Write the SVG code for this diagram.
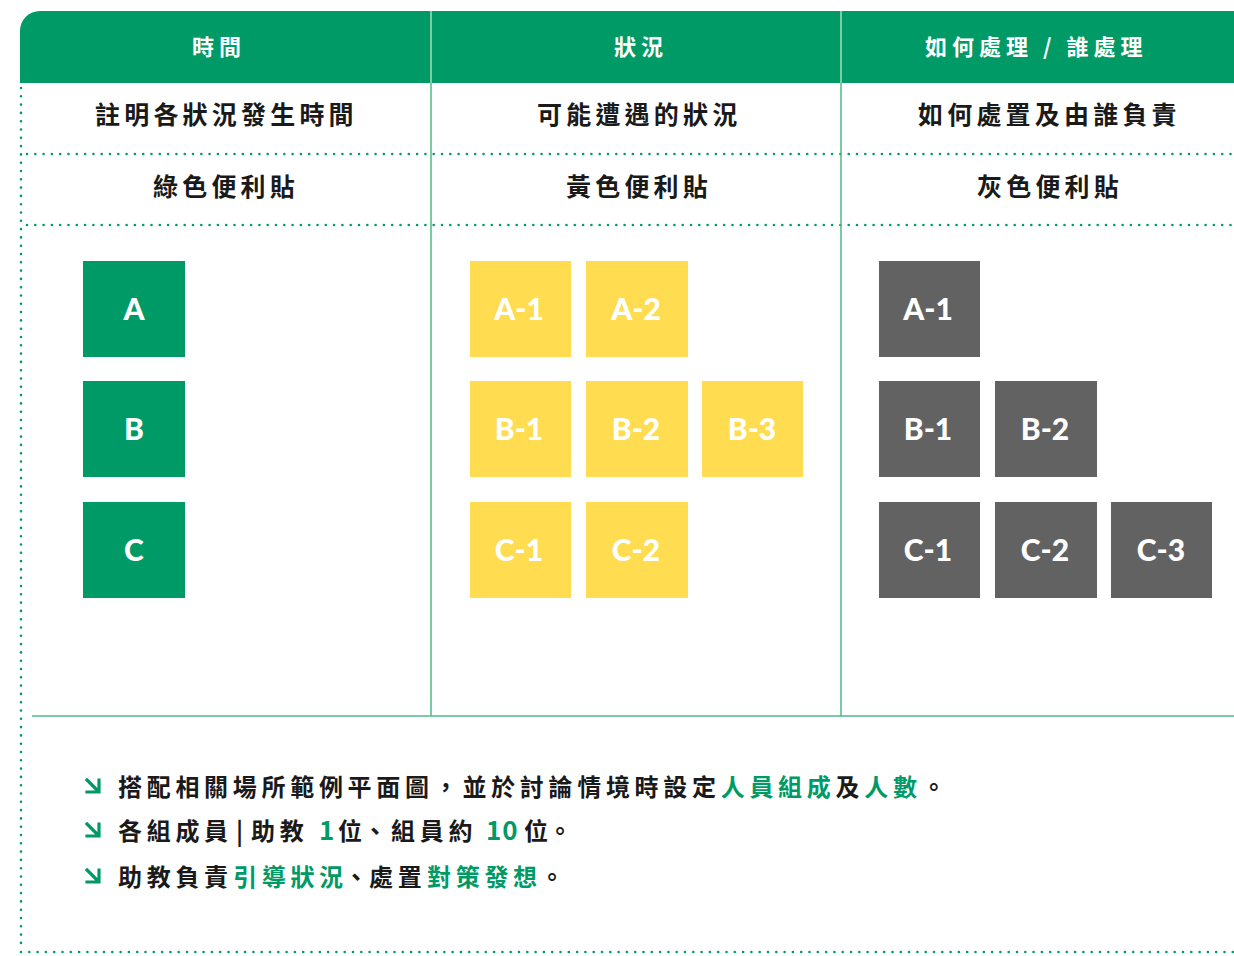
<svg xmlns="http://www.w3.org/2000/svg" width="1234" height="956" viewBox="0 0 1234 956">
<defs>
<style>
.cjk{font-family:"Noto Sans CJK TC","Noto Sans",sans-serif;font-weight:700;}
.hd{fill:#ffffff;font-size:22px;letter-spacing:5px;}
.r{fill:#1a1a1a;font-size:25px;letter-spacing:4.2px;}
.b{fill:#1a1a1a;font-size:24px;letter-spacing:4.7px;}
.g{fill:#009a66;}
.n0{letter-spacing:0;}
.num{letter-spacing:1px;font-size:26px;}
.lbl{font-family:"Lato","Open Sans","Liberation Sans",sans-serif;font-weight:900;font-size:30px;fill:#ffffff;text-anchor:middle;}
.dot{stroke:#009a66;stroke-width:2.6;stroke-linecap:round;stroke-dasharray:0 8.3;fill:none;}
.solid{stroke:#4cb98a;stroke-width:1.5;fill:none;}
.gn{fill:#009a66;}
.yl{fill:#ffdc50;}
.gy{fill:#626262;}
.arr{stroke:#009a66;stroke-width:3.2;fill:none;stroke-linecap:square;}
</style>
</defs>
<rect width="1234" height="956" fill="#ffffff"/>

<g id="header">
<path d="M20 83 V31 A20 20 0 0 1 40 11 H1234 V83 Z" fill="#009a66"/>
<line x1="431" y1="11" x2="431" y2="83" stroke="#a6dcc2" stroke-width="1.5"/>
<line x1="841" y1="11" x2="841" y2="83" stroke="#a6dcc2" stroke-width="1.5"/>
<text class="cjk hd" x="192" y="55">時間</text>
<text class="cjk hd" x="614" y="55">狀況</text>
<text class="cjk hd" x="925" y="55">如何處理 / 誰處理</text>
</g>

<g id="grid">
<line class="dot" x1="21" y1="88" x2="21" y2="950"/>
<line class="dot" x1="21" y1="952" x2="1234" y2="952"/>
<line class="dot" x1="27" y1="154" x2="1234" y2="154"/>
<line class="dot" x1="27" y1="225" x2="1234" y2="225"/>
<line class="solid" x1="431" y1="83" x2="431" y2="716"/>
<line class="solid" x1="841" y1="83" x2="841" y2="716"/>
<line class="solid" x1="32" y1="716" x2="1234" y2="716"/>
</g>

<g id="row-desc">
<text class="cjk r" x="95" y="124">註明各狀況發生時間</text>
<text class="cjk r" x="537" y="124">可能遭遇的狀況</text>
<text class="cjk r" x="918" y="124">如何處置及由誰負責</text>
</g>
<g id="row-color">
<text class="cjk r" x="153" y="196">綠色便利貼</text>
<text class="cjk r" x="566" y="196">黃色便利貼</text>
<text class="cjk r" x="977" y="196">灰色便利貼</text>
</g>

<g id="note-A"><rect class="gn" x="83" y="261" width="102" height="96"/><text class="lbl" x="134" y="320">A</text></g>
<g id="note-B"><rect class="gn" x="83" y="381" width="102" height="96"/><text class="lbl" x="134" y="440">B</text></g>
<g id="note-C"><rect class="gn" x="83" y="502" width="102" height="96"/><text class="lbl" x="134" y="561">C</text></g>

<g id="note-A-1-y"><rect class="yl" x="470" y="261" width="101" height="96"/><text class="lbl" x="519" y="320">A-1</text></g>
<g id="note-A-2-y"><rect class="yl" x="586" y="261" width="102" height="96"/><text class="lbl" x="636" y="320">A-2</text></g>
<g id="note-B-1-y"><rect class="yl" x="470" y="381" width="101" height="96"/><text class="lbl" x="519" y="440">B-1</text></g>
<g id="note-B-2-y"><rect class="yl" x="586" y="381" width="102" height="96"/><text class="lbl" x="636" y="440">B-2</text></g>
<g id="note-B-3-y"><rect class="yl" x="702" y="381" width="101" height="96"/><text class="lbl" x="752" y="440">B-3</text></g>
<g id="note-C-1-y"><rect class="yl" x="470" y="502" width="101" height="96"/><text class="lbl" x="519" y="561">C-1</text></g>
<g id="note-C-2-y"><rect class="yl" x="586" y="502" width="102" height="96"/><text class="lbl" x="636" y="561">C-2</text></g>

<g id="note-A-1-g"><rect class="gy" x="879" y="261" width="101" height="96"/><text class="lbl" x="928" y="320">A-1</text></g>
<g id="note-B-1-g"><rect class="gy" x="879" y="381" width="101" height="96"/><text class="lbl" x="928" y="440">B-1</text></g>
<g id="note-B-2-g"><rect class="gy" x="995" y="381" width="102" height="96"/><text class="lbl" x="1045" y="440">B-2</text></g>
<g id="note-C-1-g"><rect class="gy" x="879" y="502" width="101" height="96"/><text class="lbl" x="928" y="561">C-1</text></g>
<g id="note-C-2-g"><rect class="gy" x="995" y="502" width="102" height="96"/><text class="lbl" x="1045" y="561">C-2</text></g>
<g id="note-C-3-g"><rect class="gy" x="1111" y="502" width="101" height="96"/><text class="lbl" x="1161" y="561">C-3</text></g>

<g id="notes">
<path class="arr" d="M87 780 L98 791 M87 792 H99 V780"/>
<path class="arr" d="M87 824 L98 835 M87 836 H99 V824"/>
<path class="arr" d="M87 870 L98 881 M87 882 H99 V870"/>
<text class="cjk b" x="118" y="796">搭配相關場所範例平面圖，並於討論情境時設定<tspan class="g">人員組成</tspan>及<tspan class="g">人數</tspan>。</text>
<text class="cjk b" y="840"><tspan x="118">各組成員</tspan><tspan x="236">|</tspan><tspan x="251">助教</tspan><tspan class="g num" x="319">1</tspan><tspan class="n0" x="338">位</tspan><tspan class="n0" x="363">、</tspan><tspan x="391">組員約</tspan><tspan class="g num" x="486">10</tspan><tspan class="n0" x="524">位</tspan><tspan class="n0" x="548">。</tspan></text>
<text class="cjk b" y="886"><tspan x="118">助教負責</tspan><tspan class="g" x="233">引導狀</tspan><tspan class="g n0" x="319">況</tspan><tspan class="n0" x="344">、</tspan><tspan x="369">處置</tspan><tspan class="g" x="427">對策發</tspan><tspan class="g n0" x="513">想</tspan><tspan class="n0" x="540">。</tspan></text>
</g>
</svg>
